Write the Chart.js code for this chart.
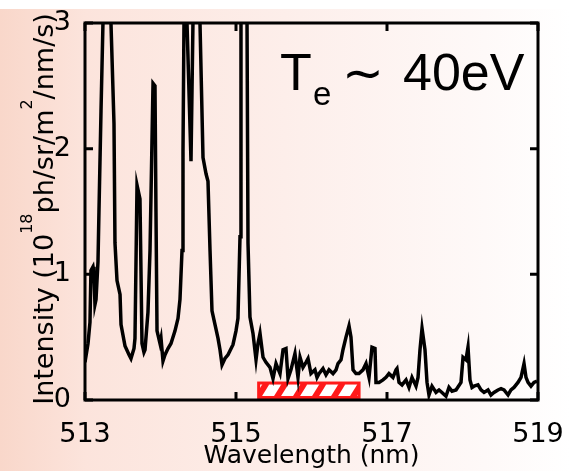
<!DOCTYPE html>
<html>
<head>
<meta charset="utf-8">
<script src="https://cdn.jsdelivr.net/npm/chart.js@4.4.1/dist/chart.umd.min.js"></script>
<style>
    html, body { margin: 0; padding: 0; background: #fff; }
</style>
</head>
<body>
<canvas id="spectrum" width="570" height="471"></canvas>
<script>
// Data
// -----------------------------------
var wavelength = [
    513.000, 513.040, 513.066, 513.079, 513.106, 513.119, 513.132, 513.146, 513.172, 513.185,
    513.212, 513.238, 513.305, 513.344, 513.384, 513.397, 513.424, 513.464, 513.477, 513.530,
    513.583, 513.609, 513.649, 513.662, 513.689, 513.728, 513.755, 513.781, 513.795, 513.834,
    513.861, 513.901, 513.927, 513.940, 513.954, 513.993, 514.007, 514.033, 514.060, 514.099,
    514.139, 514.192, 514.232, 514.258, 514.285, 514.298, 514.311, 514.331, 514.351, 514.404,
    514.430, 514.470, 514.523, 514.563, 514.603, 514.629, 514.656, 514.682, 514.722, 514.762,
    514.788, 514.815, 514.854, 514.894, 514.960, 515.000, 515.026, 515.053, 515.066, 515.106,
    515.146, 515.159, 515.185, 515.225, 515.265, 515.291, 515.318, 515.358, 515.397, 515.450,
    515.490, 515.530, 515.583, 515.623, 515.662, 515.689, 515.728, 515.781, 515.821, 515.848,
    515.887, 515.927, 515.954, 515.993, 516.046, 516.073, 516.099, 516.152, 516.192, 516.232,
    516.285, 516.325, 516.351, 516.391, 516.417, 516.457, 516.497, 516.523, 516.550, 516.589,
    516.629, 516.682, 516.722, 516.762, 516.801, 516.841, 516.854, 516.894, 516.947, 516.987,
    517.026, 517.079, 517.119, 517.132, 517.159, 517.199, 517.252, 517.291, 517.331, 517.384,
    517.411, 517.437, 517.464, 517.503, 517.530, 517.556, 517.596, 517.649, 517.689, 517.728,
    517.781, 517.821, 517.861, 517.914, 517.980, 518.007, 518.046, 518.073, 518.099, 518.126,
    518.152, 518.205, 518.245, 518.285, 518.338, 518.377, 518.417, 518.470, 518.510, 518.550,
    518.603, 518.642, 518.682, 518.735, 518.775, 518.815, 518.841, 518.868, 518.907, 518.947,
    518.987
];
var intensity = [
    0.30, 0.45, 0.62, 1.03, 1.06, 1.00, 0.76, 0.80, 1.10, 1.50,
    2.30, 3.00, 4.60, 3.00, 2.20, 1.25, 0.95, 0.84, 0.60, 0.43,
    0.36, 0.33, 0.41, 0.49, 1.71, 1.60, 0.45, 0.38, 0.40, 0.70,
    1.19, 2.52, 2.50, 1.50, 0.55, 0.45, 0.49, 0.31, 0.36, 0.41,
    0.45, 0.55, 0.65, 0.80, 1.19, 1.98, 3.00, 4.00, 3.00, 1.90,
    3.00, 4.50, 3.00, 1.93, 1.80, 1.74, 1.19, 0.71, 0.60, 0.49,
    0.40, 0.28, 0.33, 0.36, 0.44, 0.55, 0.65, 1.30, 3.00, 4.50,
    3.00, 1.25, 0.66, 0.53, 0.32, 0.45, 0.53, 0.34, 0.30, 0.26,
    0.17, 0.29, 0.21, 0.40, 0.41, 0.17, 0.24, 0.37, 0.18, 0.34,
    0.26, 0.30, 0.33, 0.21, 0.24, 0.18, 0.21, 0.25, 0.20, 0.24,
    0.21, 0.24, 0.29, 0.32, 0.40, 0.50, 0.59, 0.50, 0.24, 0.21,
    0.21, 0.24, 0.29, 0.18, 0.42, 0.41, 0.14, 0.14, 0.16, 0.18,
    0.21, 0.18, 0.24, 0.25, 0.14, 0.12, 0.16, 0.10, 0.18, 0.11,
    0.18, 0.40, 0.57, 0.40, 0.14, 0.04, 0.11, 0.06, 0.08, 0.06,
    0.03, 0.10, 0.07, 0.08, 0.14, 0.34, 0.32, 0.42, 0.16, 0.10,
    0.11, 0.12, 0.08, 0.06, 0.08, 0.04, 0.06, 0.08, 0.09, 0.08,
    0.04, 0.08, 0.10, 0.14, 0.18, 0.29, 0.18, 0.14, 0.11, 0.14,
    0.15
];
var xTicks = [513, 515, 517, 519];
var yTicks = [0, 1, 2, 3];
var bandNm = [515.30, 516.63];
var bandLevel = [0.02, 0.135];

var points = wavelength.map(function (w, i) {
    return { x: w, y: intensity[i] };
});

// Plugins
// -----------------------------------
var pageBackground = {
    id: 'pageBackground',
    beforeDraw: function (chart) {
        var ctx = chart.ctx, w = chart.width, h = chart.height;
        ctx.save();
        ctx.fillStyle = '#ffffff';
        ctx.fillRect(0, 0, w, h);
        var g = ctx.createLinearGradient(0, 0, w, 0);
        g.addColorStop(0, '#f9d7ca');
        g.addColorStop(0.15, '#fce4dc');
        g.addColorStop(0.5, '#fdeeea');
        g.addColorStop(0.85, '#fef9f8');
        g.addColorStop(1, '#ffffff');
        ctx.fillStyle = g;
        ctx.fillRect(0, 9, w, h - 9);
        ctx.restore();
    }
};

var hatchBand = {
    id: 'hatchBand',
    beforeDatasetsDraw: function (chart) {
        var ctx = chart.ctx, xs = chart.scales.x, ys = chart.scales.y;
        var l = xs.getPixelForValue(bandNm[0]), r = xs.getPixelForValue(bandNm[1]);
        var t = ys.getPixelForValue(bandLevel[1]), b = ys.getPixelForValue(bandLevel[0]);
        ctx.save();
        ctx.fillStyle = '#ffffff';
        ctx.fillRect(l, t, r - l, b - t);
        ctx.beginPath();
        ctx.rect(l, t, r - l, b - t);
        ctx.clip();
        ctx.strokeStyle = '#ff1a1a';
        ctx.lineWidth = 6;
        for (var sx = l - 20; sx < r + 20; sx += 19) {
            ctx.beginPath();
            ctx.moveTo(sx, b);
            ctx.lineTo(sx + 9, t);
            ctx.stroke();
        }
        ctx.restore();
        ctx.save();
        ctx.strokeStyle = '#ff1a1a';
        ctx.lineWidth = 3;
        ctx.strokeRect(l, t, r - l, b - t);
        ctx.restore();
    }
};

var frameTicks = {
    id: 'frameTicks',
    afterDatasetsDraw: function (chart) {
        var ctx = chart.ctx, a = chart.chartArea, xs = chart.scales.x, ys = chart.scales.y;
        var len = 8;
        ctx.save();
        ctx.strokeStyle = '#000';
        ctx.lineWidth = 3;
        ctx.strokeRect(a.left, a.top, a.right - a.left, a.bottom - a.top);
        ctx.beginPath();
        xTicks.forEach(function (v) {
            var px = xs.getPixelForValue(v);
            ctx.moveTo(px, a.bottom); ctx.lineTo(px, a.bottom - len);
            ctx.moveTo(px, a.top); ctx.lineTo(px, a.top + len);
        });
        yTicks.forEach(function (v) {
            var py = ys.getPixelForValue(v);
            ctx.moveTo(a.left, py); ctx.lineTo(a.left + len, py);
            ctx.moveTo(a.right, py); ctx.lineTo(a.right - len, py);
        });
        ctx.stroke();
        ctx.restore();
    }
};

// y title with superscripts, and the Te label
var texts = {
    id: 'texts',
    afterDraw: function (chart) {
        var ctx = chart.ctx;
        var parts = [
            { t: 'Intensity (10', size: 27, up: 0 },
            { t: '18', size: 16, up: 21 },
            { t: 'ph/sr/m', size: 27, up: 0 },
            { t: '2', size: 16, up: 21 },
            { t: '/nm/s)', size: 27, up: 0 }
        ];
        ctx.save();
        ctx.fillStyle = '#000';
        ctx.textBaseline = 'alphabetic';
        ctx.textAlign = 'left';
        var total = 0;
        parts.forEach(function (p) {
            ctx.font = p.size + 'px "DejaVu Sans"';
            p.w = ctx.measureText(p.t).width;
            total += p.w;
        });
        ctx.translate(53, 209);
        ctx.rotate(-Math.PI / 2);
        var cx = -total / 2;
        parts.forEach(function (p) {
            ctx.font = p.size + 'px "DejaVu Sans"';
            ctx.fillText(p.t, cx, -p.up);
            cx += p.w;
        });
        ctx.restore();

        ctx.save();
        ctx.fillStyle = '#000';
        ctx.textBaseline = 'alphabetic';
        ctx.textAlign = 'left';
        ctx.font = '52px "Liberation Sans"';
        ctx.fillText('T', 280, 90);
        ctx.font = '33px "Liberation Sans"';
        ctx.fillText('e', 313, 105);
        ctx.font = '50px "DejaVu Sans"';
        ctx.fillText('\u223C', 342, 90);
        ctx.font = '52px "Liberation Sans"';
        ctx.fillText('40eV', 403, 90);
        ctx.restore();
    }
};

// Chart
// -----------------------------------
var tickFont = { family: '"DejaVu Sans"', size: 27 };

new Chart(document.getElementById('spectrum').getContext('2d'), {
    type: 'scatter',
    data: {
        datasets: [{
            data: points,
            showLine: true,
            borderColor: '#000',
            borderWidth: 3.5,
            pointRadius: 0,
            tension: 0,
            borderJoinStyle: 'miter'
        }]
    },
    options: {
        responsive: false,
        animation: false,
        events: [],
        layout: { padding: { top: 23, right: 32, left: 0, bottom: 0 } },
        plugins: {
            legend: { display: false },
            tooltip: { enabled: false }
        },
        scales: {
            x: {
                type: 'linear',
                min: 513,
                max: 519,
                afterBuildTicks: function (s) {
                    s.ticks = xTicks.map(function (v) { return { value: v }; });
                },
                afterFit: function (s) {
                    s.height = 71;
                    s.paddingLeft = 0;
                    s.paddingRight = 0;
                },
                grid: { display: false },
                border: { display: false },
                ticks: { font: tickFont, color: '#000', padding: 11, maxRotation: 0, autoSkip: false },
                title: {
                    display: true,
                    text: 'Wavelength (nm)',
                    color: '#000',
                    font: { family: '"DejaVu Sans"', size: 25 },
                    padding: { top: 0, bottom: 0 }
                }
            },
            y: {
                min: 0,
                max: 3,
                afterBuildTicks: function (s) {
                    s.ticks = yTicks.map(function (v) { return { value: v }; });
                },
                afterFit: function (s) {
                    s.width = 85;
                    s.paddingTop = 0;
                    s.paddingBottom = 0;
                },
                grid: { display: false },
                border: { display: false },
                ticks: { font: tickFont, color: '#000', padding: 6 }
            }
        }
    },
    plugins: [pageBackground, hatchBand, frameTicks, texts]
});
</script>
</body>
</html>
